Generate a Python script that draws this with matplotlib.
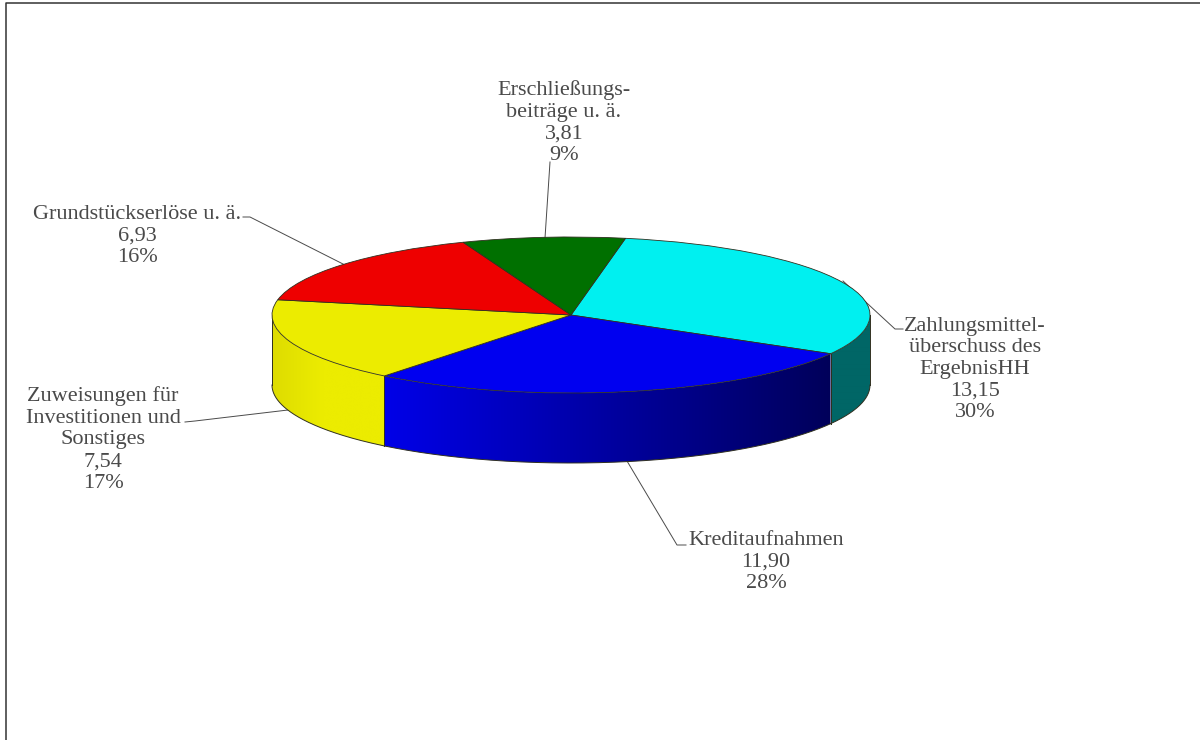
import numpy as np
import matplotlib
matplotlib.use("Agg")
import matplotlib.pyplot as plt
from matplotlib.patches import Wedge, Polygon
from matplotlib.transforms import Affine2D
from matplotlib.colors import to_rgb

categories = ["Zahlungsmittel-\nüberschuss des\nErgebnisHH", "Kreditaufnahmen",
              "Zuweisungen für\nInvestitionen und\nSonstiges", "Grundstückserlöse u. ä.",
              "Erschließungs-\nbeiträge u. ä."]
values = [13.15, 11.90, 7.54, 6.93, 3.81]
value_labels = ["13,15", "11,90", "7,54", "6,93", "3,81"]
percent_labels = ["30%", "28%", "17%", "16%", "9%"]
top_colors = ["#00F0F0", "#0000F0", "#ECEC00", "#EE0000", "#007000"]
wall_left = ["#006666", "#0000E8", "#DEDC00", "#EE0000", "#007000"]
wall_right = ["#006666", "#00005A", "#ECEC00", "#EE0000", "#007000"]
wall_ramp = [1.0, 1.0, 0.45, 1.0, 1.0]

label_xy = [(975, 369.5), (766, 562), (103, 439.5), (137, 236), (564, 122.5)]
leaders = [[(903, 329), (895, 329), (843, 281)],
           [(686, 545), (677, 545), (627, 461)],
           [(185, 422), (195, 421), (288, 410)],
           [(243, 217), (250, 217), (345, 265)],
           [(550, 162), (545, 238)]]

cx, cy, rx, ry, depth = 571, 315, 299, 78, 70
start_angle = 79.5
ink = "#4A4A4A"
edge = "#303020"

plt.rcParams["font.family"] = ["Liberation Serif", "DejaVu Sans"]
fig = plt.figure(figsize=(12, 7.4), dpi=100)
ax = fig.add_axes([0, 0, 1, 1])
ax.axis("off")

spans = np.array(values) / sum(values) * 360
ends = start_angle - np.cumsum(spans)
starts = ends + spans

ax.plot([6, 6, 1200], [740, 3, 3], color="#333333", lw=1.1, zorder=1)

for pts in leaders:
    xs, ys = zip(*pts)
    ax.plot(xs, ys, color=ink, lw=0.7, zorder=1.5)


def ex(a):
    return cx + rx * np.cos(np.radians(a))


def ey(a):
    return cy - ry * np.sin(np.radians(a))


for s, e, cl, cr, ramp in zip(starts, ends, wall_left, wall_right, wall_ramp):
    lo, hi = e % 360, s % 360
    if lo > hi:
        lo -= 360
    for shift in (0, -360):
        a0, a1 = max(lo, 180 + shift), min(hi, 360 + shift)
        if a1 <= a0:
            continue
        aa = np.linspace(a0, a1, 300)
        xs, ys = ex(aa), ey(aa)
        outline = np.column_stack([np.r_[xs, xs[::-1]], np.r_[ys, ys[::-1] + depth]])
        x0, x1 = xs.min(), xs.max()
        t = np.clip(np.linspace(0, 1, 400) / ramp, 0, 1)[None, :, None]
        grad = np.array(to_rgb(cl)) + (np.array(to_rgb(cr)) - np.array(to_rgb(cl))) * t
        im = ax.imshow(grad, extent=(x0, x1, ys.max() + depth, ys.min()),
                       aspect="auto", interpolation="bilinear", zorder=2)
        clip = Polygon(outline, closed=True, transform=ax.transData)
        im.set_clip_path(clip)
        ax.plot(xs, ys + depth, color=edge, lw=0.7, zorder=3)
        for a in (a0, a1):
            ax.plot([ex(a), ex(a)], [ey(a), ey(a) + depth], color=edge, lw=0.7, zorder=3)

ax.set_xlim(0, 1200)
ax.set_ylim(740, 0)
ax.set_aspect("auto")

tf = Affine2D().scale(rx, -ry).translate(cx, cy) + ax.transData
for s, e, c in zip(starts, ends, top_colors):
    ax.add_patch(Wedge((0, 0), 1, e, s, facecolor=c, edgecolor=edge, lw=0.6,
                       transform=tf, zorder=4))

for cat, v, p, (x, y) in zip(categories, value_labels, percent_labels, label_xy):
    ax.text(x, y, f"{cat}\n{v}\n{p}", ha="center", va="center", fontsize=16,
            color=ink, linespacing=1.19, zorder=5)

fig.savefig("out.png", dpi=100)
